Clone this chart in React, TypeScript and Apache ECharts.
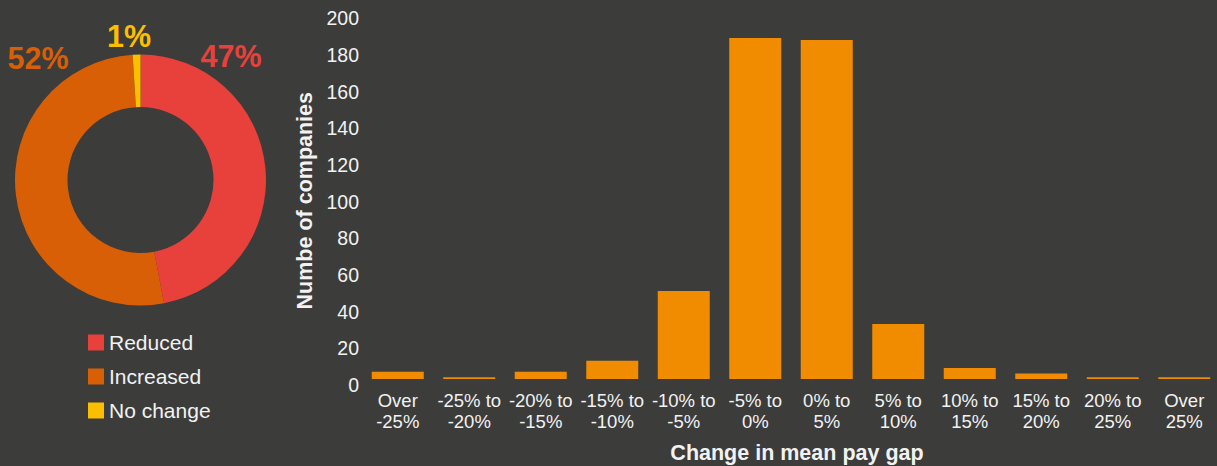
import React, { useEffect, useRef } from "react";
import * as echarts from "echarts";

const pieNames = ["Reduced", "Increased", "No change"];
const pieValues = [47, 52, 1];
const pieColors = ["#e8403a", "#d85f06", "#fbbf00"];

const categories = [
  "Over\n-25%",
  "-25% to\n-20%",
  "-20% to\n-15%",
  "-15% to\n-10%",
  "-10% to\n-5%",
  "-5% to\n0%",
  "0% to\n5%",
  "5% to\n10%",
  "10% to\n15%",
  "15% to\n20%",
  "20% to\n25%",
  "Over\n25%",
];
const counts = [4, 1, 4, 10, 48, 186, 185, 30, 6, 3, 1, 1];

const yTicks = { min: 0, max: 200, interval: 20 };

const FONT = "'Liberation Sans', Arial, Helvetica, sans-serif";
const labelSpots = [
  { x: 231, y: 56 },
  { x: 38, y: 58 },
  { x: 129, y: 36 },
];

export default function App() {
  const ref = useRef<HTMLDivElement>(null);
  useEffect(() => {
    document.body.style.margin = "0";
    const chart = echarts.init(ref.current!, null, { renderer: "svg" });
    chart.setOption({
      animation: false,
      backgroundColor: "#3c3c3b",
      textStyle: { fontFamily: FONT },
      legend: {
        orient: "vertical",
        left: 83,
        top: 327,
        itemWidth: 16,
        itemHeight: 16,
        itemGap: 13,
        icon: "rect",
        data: pieNames,
        textStyle: { color: "#f2f2f2", fontSize: 21, fontFamily: FONT },
        selectedMode: false,
      },
      grid: {
        left: 362,
        right: -3,
        top: 12.4,
        bottom: 87,
        containLabel: false,
        outerBoundsMode: "none",
      },
      xAxis: {
        type: "category",
        data: categories,
        axisLine: { show: false },
        axisTick: { show: false },
        axisLabel: {
          color: "#f2f2f2",
          fontSize: 18.5,
          lineHeight: 21,
          margin: 11,
          interval: 0,
          fontFamily: FONT,
        },
        name: "Change in mean pay gap",
        nameLocation: "middle",
        nameGap: 63,
        nameTextStyle: {
          color: "#f2f2f2",
          fontSize: 21.5,
          fontWeight: "bold",
          fontFamily: FONT,
          padding: [0, 0, 0, 12],
        },
      },
      yAxis: {
        type: "value",
        min: yTicks.min,
        max: yTicks.max,
        interval: yTicks.interval,
        axisLine: { show: false },
        axisTick: { show: false },
        splitLine: { show: false },
        axisLabel: {
          color: "#f2f2f2",
          fontSize: 19.5,
          margin: 3,
          verticalAlign: "top",
          lineHeight: 12,
          fontFamily: FONT,
        },
        name: "Numbe of companies",
        nameLocation: "middle",
        nameGap: 45,
        nameTextStyle: {
          color: "#f2f2f2",
          fontSize: 21.5,
          fontWeight: "bold",
          fontFamily: FONT,
          padding: [0, 10, 0, 0],
        },
      },
      series: [
        {
          type: "bar",
          data: counts,
          barWidth: 52,
          itemStyle: { color: "#f18c00" },
        },
        {
          type: "pie",
          center: [140.5, 180],
          radius: [73, 125.5],
          startAngle: 90,
          clockwise: true,
          avoidLabelOverlap: false,
          data: pieNames.map((n, i) => ({
            name: n,
            value: pieValues[i],
            itemStyle: { color: pieColors[i] },
            label: { color: pieColors[i] },
          })),
          label: {
            show: true,
            position: "outside",
            formatter: "{c}%",
            fontSize: 30.5,
            fontWeight: "bold",
            fontFamily: FONT,
          },
          labelLine: { show: false },
          labelLayout: (p: any) => ({
            x: labelSpots[p.dataIndex].x,
            y: labelSpots[p.dataIndex].y,
            align: "center",
            verticalAlign: "middle",
            hideOverlap: false,
          }),
          emphasis: { disabled: true },
        },
      ],
    });
    return () => chart.dispose();
  }, []);
  return <div ref={ref} style={{ width: 1217, height: 466 }} />;
}
